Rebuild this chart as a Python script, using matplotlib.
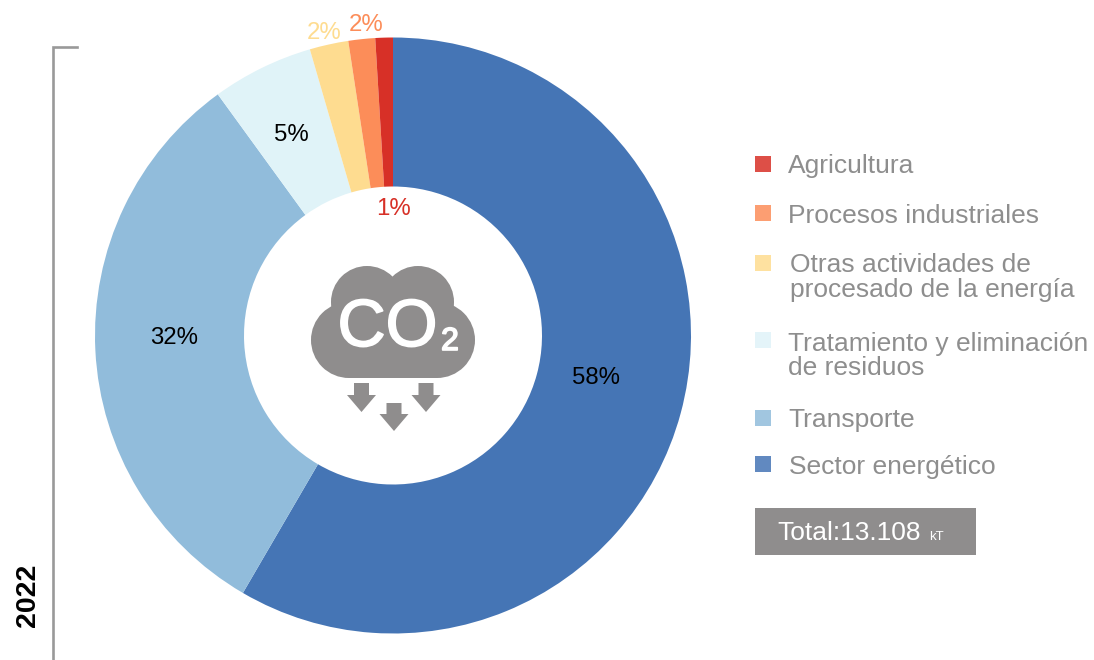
#!/usr/bin/python3

import matplotlib
matplotlib.use('Agg')
import matplotlib.pyplot as plt
import matplotlib.patheffects as pe
from matplotlib.patches import Circle, Polygon, Rectangle

plt.rcParams['font.family'] = ['Liberation Sans', 'DejaVu Sans']

W = 1094
H = 660

# Share of each sector, clockwise from 12 o'clock
sectors = ['Sector energético', 'Transporte', 'Tratamiento y eliminación\nde residuos',
           'Otras actividades de\nprocesado de la energía', 'Procesos industriales', 'Agricultura']
shares = [58.4, 31.6, 5.5, 2.1, 1.45, 0.95]
share_labels = ['58%', '32%', '5%', '2%', '2%', '1%']
colors = ['#4575B5', '#91BCDB', '#E0F3F8', '#FEDC90', '#FC8D59', '#D73027']
total_text = 'Total:13.108'
total_unit = 'kT'
year = '2022'

GRAY = '#8F8D8D'
TEXT_GRAY = '#8E8E8E'

fig = plt.figure(figsize=(W / 100, H / 100), dpi=100)

# donut, axes placed in pixels
cx, cy, r = 393, 335.5, 298
ax = fig.add_axes([(cx - r) / W, 1 - (cy + r) / H, 2 * r / W, 2 * r / H])
ax.pie(shares, colors=colors, startangle=90, counterclock=False, radius=1,
       wedgeprops={'width': 0.5, 'linewidth': 0})
ax.set_xlim(-1, 1)
ax.set_ylim(-1, 1)
ax.axis('off')

# everything else goes on an overlay in pixel coords
ov = fig.add_axes([0, 0, 1, 1], facecolor='none')
ov.set_xlim(0, W)
ov.set_ylim(H, 0)
ov.axis('off')

label_xy = [(596, 378), (174, 338), (291, 135), (324, 33), (366, 25), (394, 209)]
label_colors = ['black', 'black', 'black', colors[3], colors[4], colors[5]]
for txt, (x, y), c in zip(share_labels, label_xy, label_colors):
    ov.text(x, y, txt, color=c, fontsize=17.3, ha='center', va='center')

# bracket + year
ov.plot([77, 53, 53], [47, 47, 660], color='#999999', lw=1.9, solid_joinstyle='miter', clip_on=False)
ov.text(28, 595, year, rotation=90, fontsize=20.5, fontweight='bold', color='black',
        ha='center', va='center')

# legend
sq_y = [464, 418, 340, 263, 213, 164]
text_x = [789, 788, 788, 789.5, 788.5, 788]
text_y = [467, 420, 356, 277.5, 216, 166]
for i in range(len(sectors)):
    ov.add_patch(Rectangle((755, sq_y[i] - 8), 16, 16, facecolor=colors[i], alpha=0.85, lw=0))
    ov.text(text_x[i], text_y[i], sectors[i], color=TEXT_GRAY, fontsize=19, ha='left', va='center',
            linespacing=1.03)

# total box
ov.add_patch(Rectangle((755, 508), 221, 47, facecolor=GRAY, lw=0))
ov.text(777, 532.5, total_text, color='white', fontsize=19, ha='left', va='center')
ov.text(929, 537, total_unit, color='white', fontsize=9.5, ha='left', va='center')

# CO2 cloud icon
for x, y, rad in [(367, 302, 36), (418, 302, 36), (349, 340, 38), (437, 340, 38)]:
    ov.add_patch(Circle((x, y), rad, facecolor=GRAY, lw=0))
ov.add_patch(Rectangle((349, 300), 88, 78, facecolor=GRAY, lw=0))
stroke = [pe.withStroke(linewidth=1.2, foreground='white')]
ov.text(387.5, 329, 'CO', color='white', fontsize=48, ha='center', va='center', path_effects=stroke)
ov.text(450, 342, '2', color='white', fontsize=23, ha='center', va='center', path_effects=stroke)

for tip_x, tip_y, top in [(361.5, 412, 383), (394, 431, 403), (426, 412, 383)]:
    ov.add_patch(Polygon([(tip_x - 7.5, top), (tip_x + 7.5, top), (tip_x + 7.5, tip_y - 17),
                          (tip_x + 14.5, tip_y - 17), (tip_x, tip_y), (tip_x - 14.5, tip_y - 17),
                          (tip_x - 7.5, tip_y - 17)], facecolor=GRAY, lw=0))

fig.savefig('out.png', dpi=100)
